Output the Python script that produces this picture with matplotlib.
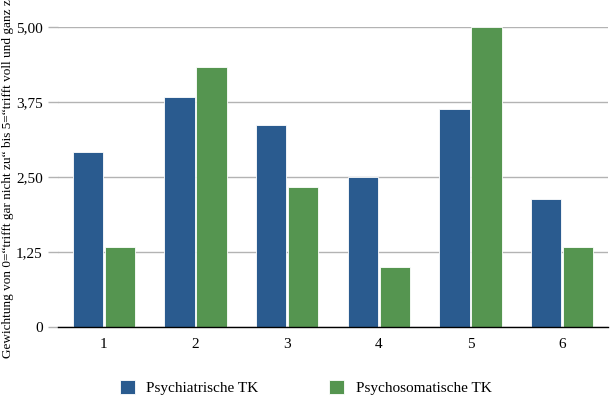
import matplotlib.pyplot as plt
import numpy as np

plt.rcParams['font.family'] = ['Liberation Serif', 'DejaVu Serif']

# data
categories = ['1', '2', '3', '4', '5', '6']
psychiatrisch = [2.92, 3.84, 3.37, 2.50, 3.63, 2.13]
psychosomatisch = [1.33, 4.33, 2.33, 1.00, 5.00, 1.33]
series_names = ['Psychiatrische TK', 'Psychosomatische TK']
yticks = [0, 1.25, 2.5, 3.75, 5.0]
ytick_labels = ['0', '1,25', '2,50', '3,75', '5,00']

blue = '#2a5b8f'
green = '#559550'

fig = plt.figure(figsize=(6.11, 3.99), dpi=100)
ax = fig.add_axes([58 / 611, 1 - 327 / 399, 550 / 611, 300 / 399])

x = np.arange(len(categories))
w = 0.33
ax.bar(x - 0.175, psychiatrisch, w, color=blue, edgecolor='white', linewidth=0.6,
       label=series_names[0], zorder=3)
ax.bar(x + 0.175, psychosomatisch, w, color=green, edgecolor='white', linewidth=0.6,
       label=series_names[1], zorder=3)

ax.set_xlim(-0.5, len(categories) - 0.5)
ax.set_ylim(0, 5)
ax.set_yticks(yticks)
ax.set_yticklabels(ytick_labels, fontsize=11)
ax.set_xticks(x)
ax.set_xticklabels(categories, fontsize=11)

## gridlines
ax.yaxis.grid(True, color='#b3b3b3', linewidth=1.0, zorder=0)
for s in ['left', 'right', 'top']:
    ax.spines[s].set_visible(False)
ax.spines['bottom'].set_color('black')
ax.spines['bottom'].set_linewidth(1.0)
ax.spines['bottom'].set_zorder(4)
ax.tick_params(axis='y', length=7, color='#b3b3b3', width=1.0, pad=4)
ax.tick_params(axis='x', length=0, pad=8)

ax.set_ylabel('Gewichtung von 0=\u201ctrifft gar nicht zu\u201c bis 5=\u201ctrifft voll und ganz zu\u201c',
              fontsize=9.5)
ax.yaxis.set_label_coords(-0.08, 0.515)

fig.legend(loc='lower center', ncol=2, frameon=False, fontsize=11,
           bbox_to_anchor=(0.5, -0.025), handlelength=1.0, handleheight=1.0,
           columnspacing=4.6, handletextpad=0.75)

fig.savefig('out.png', dpi=100)
